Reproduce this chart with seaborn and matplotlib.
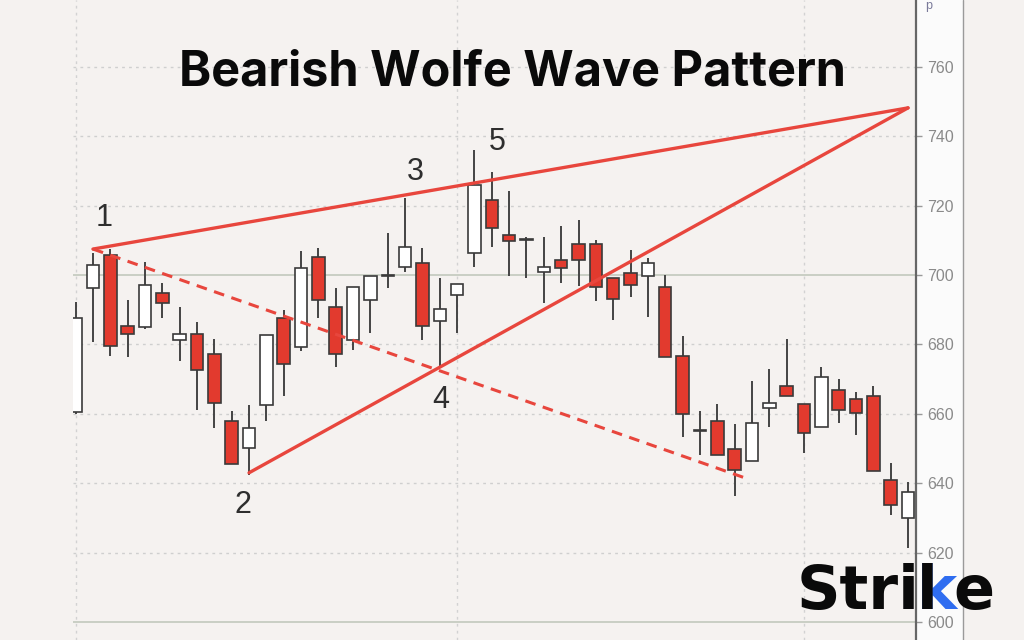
import numpy as np
import pandas as pd
import matplotlib
matplotlib.use("Agg")
import matplotlib.pyplot as plt
import seaborn as sns

# ---------------- data ----------------
opens  = [660.5, 696.4, 705.8, 685.2, 684.9, 694.9, 681.3, 683.0, 677.3, 658.0,
          650.1, 662.6, 687.6, 679.4, 705.3, 690.7, 681.3, 692.8, 699.6, 702.4,
          703.6, 686.9, 694.3, 706.3, 721.7, 711.6, 710.0, 701.0, 704.4, 708.9,
          708.9, 699.1, 700.5, 699.6, 696.7, 676.7, 655.1, 658.0, 649.8, 646.5,
          661.8, 667.9, 662.9, 656.3, 666.9, 664.2, 665.2, 640.8, 630.0]
highs  = [692.3, 706.4, 707.4, 692.8, 703.9, 697.8, 690.7, 686.4, 681.5, 660.8,
          662.6, 682.8, 690.0, 706.8, 707.7, 696.2, 696.7, 699.6, 712.1, 722.2,
          707.7, 699.1, 697.4, 736.1, 729.8, 724.1, 711.0, 710.9, 714.2, 715.9,
          710.1, 699.1, 707.2, 704.9, 700.0, 682.5, 660.7, 662.9, 657.1, 669.6,
          672.9, 681.5, 662.9, 673.6, 670.0, 666.4, 668.0, 645.8, 640.4]
lows   = [660.0, 680.8, 676.7, 676.5, 684.5, 687.6, 675.1, 661.0, 655.8, 645.6,
          642.4, 657.8, 665.0, 678.0, 687.6, 673.6, 678.4, 683.2, 696.2, 701.0,
          681.3, 673.6, 683.2, 702.4, 708.2, 699.6, 699.1, 691.9, 697.7, 696.9,
          692.5, 687.1, 693.8, 688.0, 676.3, 653.4, 648.2, 648.2, 636.3, 646.5,
          656.1, 665.0, 648.6, 656.3, 657.3, 653.9, 643.6, 630.9, 621.3]
closes = [687.6, 702.9, 679.6, 683.0, 697.0, 691.9, 683.0, 672.7, 663.0, 645.6,
          655.8, 682.8, 674.4, 702.0, 692.8, 677.2, 696.7, 699.6, 699.9, 708.2,
          685.3, 690.1, 697.4, 726.0, 713.5, 709.7, 710.3, 702.4, 702.0, 704.4,
          696.7, 693.0, 697.2, 703.4, 676.3, 660.0, 655.4, 648.2, 643.8, 657.3,
          663.1, 665.0, 654.6, 670.5, 661.1, 660.2, 643.6, 633.8, 637.5]

# Wolfe wave lines (candle index, price)
upper_x, upper_y = [1, 48.0], [707.5, 748.2]
lower_x, lower_y = [10, 48.0], [643.0, 748.2]
dash_x,  dash_y  = [1, 38.9], [707.5, 641.0]

# point labels
point_labels = ["1", "2", "3", "4", "5"]
label_x = [1.63, 9.65, 19.57, 21.07, 24.3]
label_y = [716.5, 633.7, 729.7, 664.0, 738.4]

y_ticks = [600, 620, 640, 660, 680, 700, 720, 740, 760]
v_grid = [0, 22, 42]

title = "Bearish Wolfe Wave Pattern"

# ---------------- style ----------------
sns.set_theme(style="white")
BG = "#f5f2f0"
RED = "#e23a2e"
LINE_RED = "#e8463d"
EDGE = "#3a3a3a"
plt.rcParams['font.family'] = ['Liberation Sans', 'DejaVu Sans']

fig = plt.figure(figsize=(10.24, 6.4), dpi=100, facecolor=BG)
ax = fig.add_axes([73/1024, 0, (916-73)/1024, 1])
ax.set_facecolor(BG)

df = pd.DataFrame({"o": opens, "h": highs, "l": lows, "c": closes})
df["i"] = np.arange(len(df))
df["up"] = df["c"] >= df["o"]

# grid
for v in y_ticks:
    if v % 100 == 0:
        ax.axhline(v, color="#c9cfc4", lw=1.4, zorder=0)
    else:
        ax.axhline(v, color="#cfcfcf", lw=1.0, ls=(0, (2, 3)), zorder=0)
for xv in v_grid:
    ax.axvline(xv, color="#d2d2d2", lw=1.0, ls=(0, (2, 3)), zorder=0)

# wicks
ax.vlines(df["i"], df["l"], df["h"], color="#444444", lw=1.4, zorder=2)
# bodies
bottoms = np.minimum(df["o"], df["c"])
heights = np.maximum(np.abs(df["c"] - df["o"]), 0.35)
colors = np.where(df["up"], "#ffffff", RED)
ax.bar(df["i"], heights, bottom=bottoms, width=0.72, color=colors,
       edgecolor=EDGE, linewidth=1.2, zorder=3)

# wolfe lines via seaborn
sns.lineplot(x=upper_x, y=upper_y, ax=ax, color=LINE_RED, lw=2.4, zorder=4)
sns.lineplot(x=lower_x, y=lower_y, ax=ax, color=LINE_RED, lw=2.4, zorder=4)
sns.lineplot(x=dash_x, y=dash_y, ax=ax, color=LINE_RED, lw=2.2, zorder=4,
             linestyle=(0, (3.5, 2.5)))

for t, x, y in zip(point_labels, label_x, label_y):
    ax.text(x, y, t, fontsize=22, color="#2e2e2e", ha="center", va="center", zorder=5)

ax.set_xlim(-0.15, 48.46)
ax.set_ylim(594.8, 779.3)
ax.yaxis.tick_right()
ax.set_yticks(y_ticks)
ax.set_yticklabels([str(v) for v in y_ticks])
ax.tick_params(axis="y", right=True, length=4, width=1, color="#999999",
               labelsize=11.5, labelcolor="#8a8a8a", pad=4, direction="out")
ax.set_xticks([])
ax.set_xlabel("")
ax.set_ylabel("")
for s in ["top", "left", "bottom"]:
    ax.spines[s].set_visible(False)
ax.spines["right"].set_color("#666666")
ax.spines["right"].set_linewidth(1.6)

# right axis panel
fig.patches.append(plt.Rectangle((916/1024, 0), 47/1024, 1, transform=fig.transFigure,
                                 facecolor="#fbfbfb", edgecolor="none", zorder=-1))
fig.add_artist(plt.Line2D([963/1024, 963/1024], [0, 1], transform=fig.transFigure,
                          color="#9a9a9a", lw=1.0))
fig.text(925/1024, 1-6/640, "p", fontsize=9, color="#7a7a9a", ha="left", va="center")

# title
fig.text(0.5, 1-72/640, title, fontsize=35, fontweight="bold",
         family=["Inter", "DejaVu Sans"], color="#0a0a0a", ha="center", va="center")

# logo
fig.canvas.draw()
r = fig.canvas.get_renderer()
x0 = 797/1024
ylogo = 1-586/640
logo_font = dict(fontsize=43.5, fontweight="bold", family=["DejaVu Sans"],
                 ha="left", va="center_baseline")
parts = [("Stri", "#0a0a0a"), ("k", "#2f6df0"), ("e", "#0a0a0a")]
for txt, col in parts:
    t = fig.text(x0, ylogo, txt, color=col, zorder=10, **logo_font)
    if txt == "k":
        fig.text(x0, ylogo, "l", color="#0a0a0a", zorder=11, **logo_font)
    bb = t.get_window_extent(renderer=r)
    x0 += bb.width / 1024 - 0.003

fig.savefig("out.png", dpi=100, facecolor=BG)
